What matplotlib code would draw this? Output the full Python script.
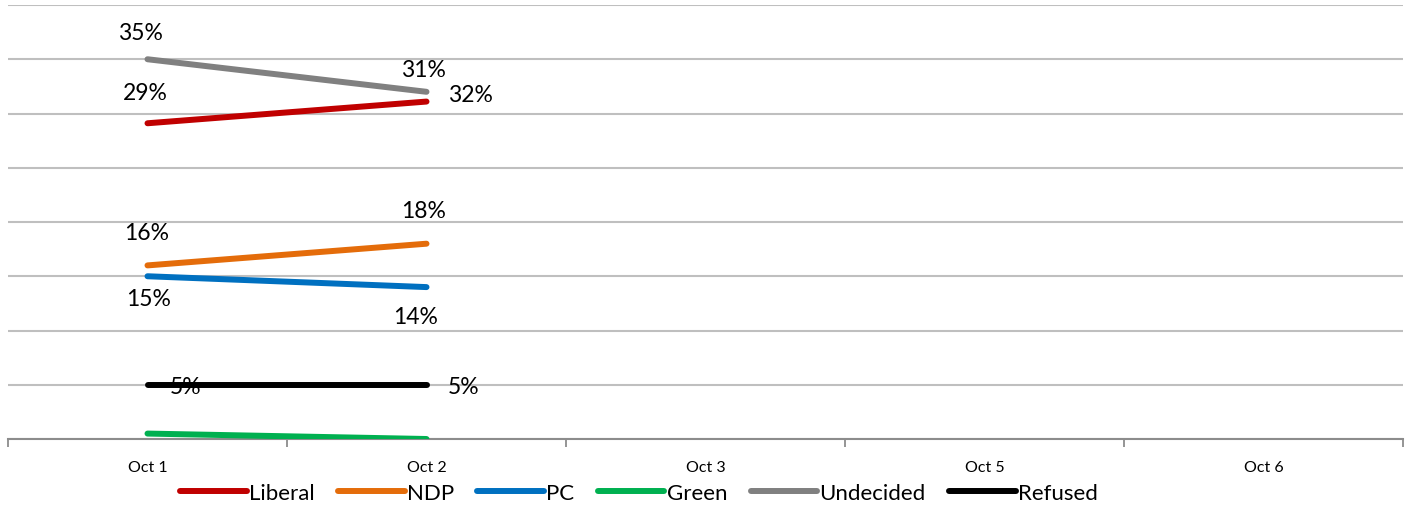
import matplotlib.pyplot as plt
from matplotlib.ticker import FixedLocator, NullFormatter

plt.rcParams['font.family'] = ['Lato', 'DejaVu Sans']

# categories on the x axis (only the first two have data)
dates = ['Oct 1', 'Oct 2', 'Oct 3', 'Oct 5', 'Oct 6']

parties = ['Liberal', 'NDP', 'PC', 'Green', 'Undecided', 'Refused']
colori = ['#C00000', '#E46C0A', '#0070C0', '#00B050', '#808080', '#000000']

# percentages
liberal = [29.1, 31.1]
ndp = [16.0, 18.0]
pc = [15.0, 14.0]
green = [0.5, 0.0]
undecided = [35.0, 32.0]
refused = [5.0, 5.0]
valori = [liberal, ndp, pc, green, undecided, refused]

# data labels as shown on the chart (green has none)
etichette = [['29%', '32%'], ['16%', '18%'], ['15%', '14%'], None,
             ['35%', '31%'], ['5%', '5%']]
# label offsets in pixels (dx, dy) per point
offset = [[(-2, 31), (44, 7)], [(-1, 33), (-3, 33)], [(1, -22), (-11, -29)], None,
          [(-7, 27), (-3, 22)], [(38, -2), (37, -2)]]

fig = plt.figure(figsize=(14.09, 5.10), dpi=100)
ax = fig.add_axes([8 / 1409, 1 - 440 / 510, 1395 / 1409, 434 / 510])

for nome, col, val in zip(parties, colori, valori):
    ax.plot(range(len(val)), val, color=col, linewidth=4.3, solid_capstyle='round', label=nome, zorder=3)

for val, lab, off in zip(valori, etichette, offset):
    if lab is None:
        continue
    for i, (v, t, o) in enumerate(zip(val, lab, off)):
        ax.annotate(t, (i, v), textcoords='offset pixels', xytext=o,
                    ha='center', va='center', fontsize=16.5, color='#000000', zorder=4)

ax.set_xlim(-0.5, len(dates) - 0.5)
ax.set_ylim(0, 40)
ax.set_yticks(range(0, 41, 5))
ax.yaxis.set_major_formatter(NullFormatter())
ax.tick_params(axis='y', length=0)
ax.grid(axis='y', color='#BFBFBF', linewidth=1.5, zorder=0)
ax.set_axisbelow(True)

ax.set_xticks(range(len(dates)))
ax.set_xticklabels(dates, fontsize=11.5)
ax.tick_params(axis='x', which='major', length=0, pad=15)
ax.xaxis.set_minor_locator(FixedLocator([i - 0.5 for i in range(len(dates) + 1)]))
ax.tick_params(axis='x', which='minor', length=6, width=1.3, color='#8C8C8C')

for s in ['top', 'left', 'right']:
    ax.spines[s].set_visible(False)
ax.spines['bottom'].set_color('#8C8C8C')
ax.spines['bottom'].set_linewidth(1.5)

fig.legend(loc='center', bbox_to_anchor=(639 / 1409, 1 - 494 / 510), ncol=6, frameon=False,
           fontsize=16, handlelength=3.0, handletextpad=0.1, columnspacing=1.05)

plt.savefig('out.png', dpi=100)
